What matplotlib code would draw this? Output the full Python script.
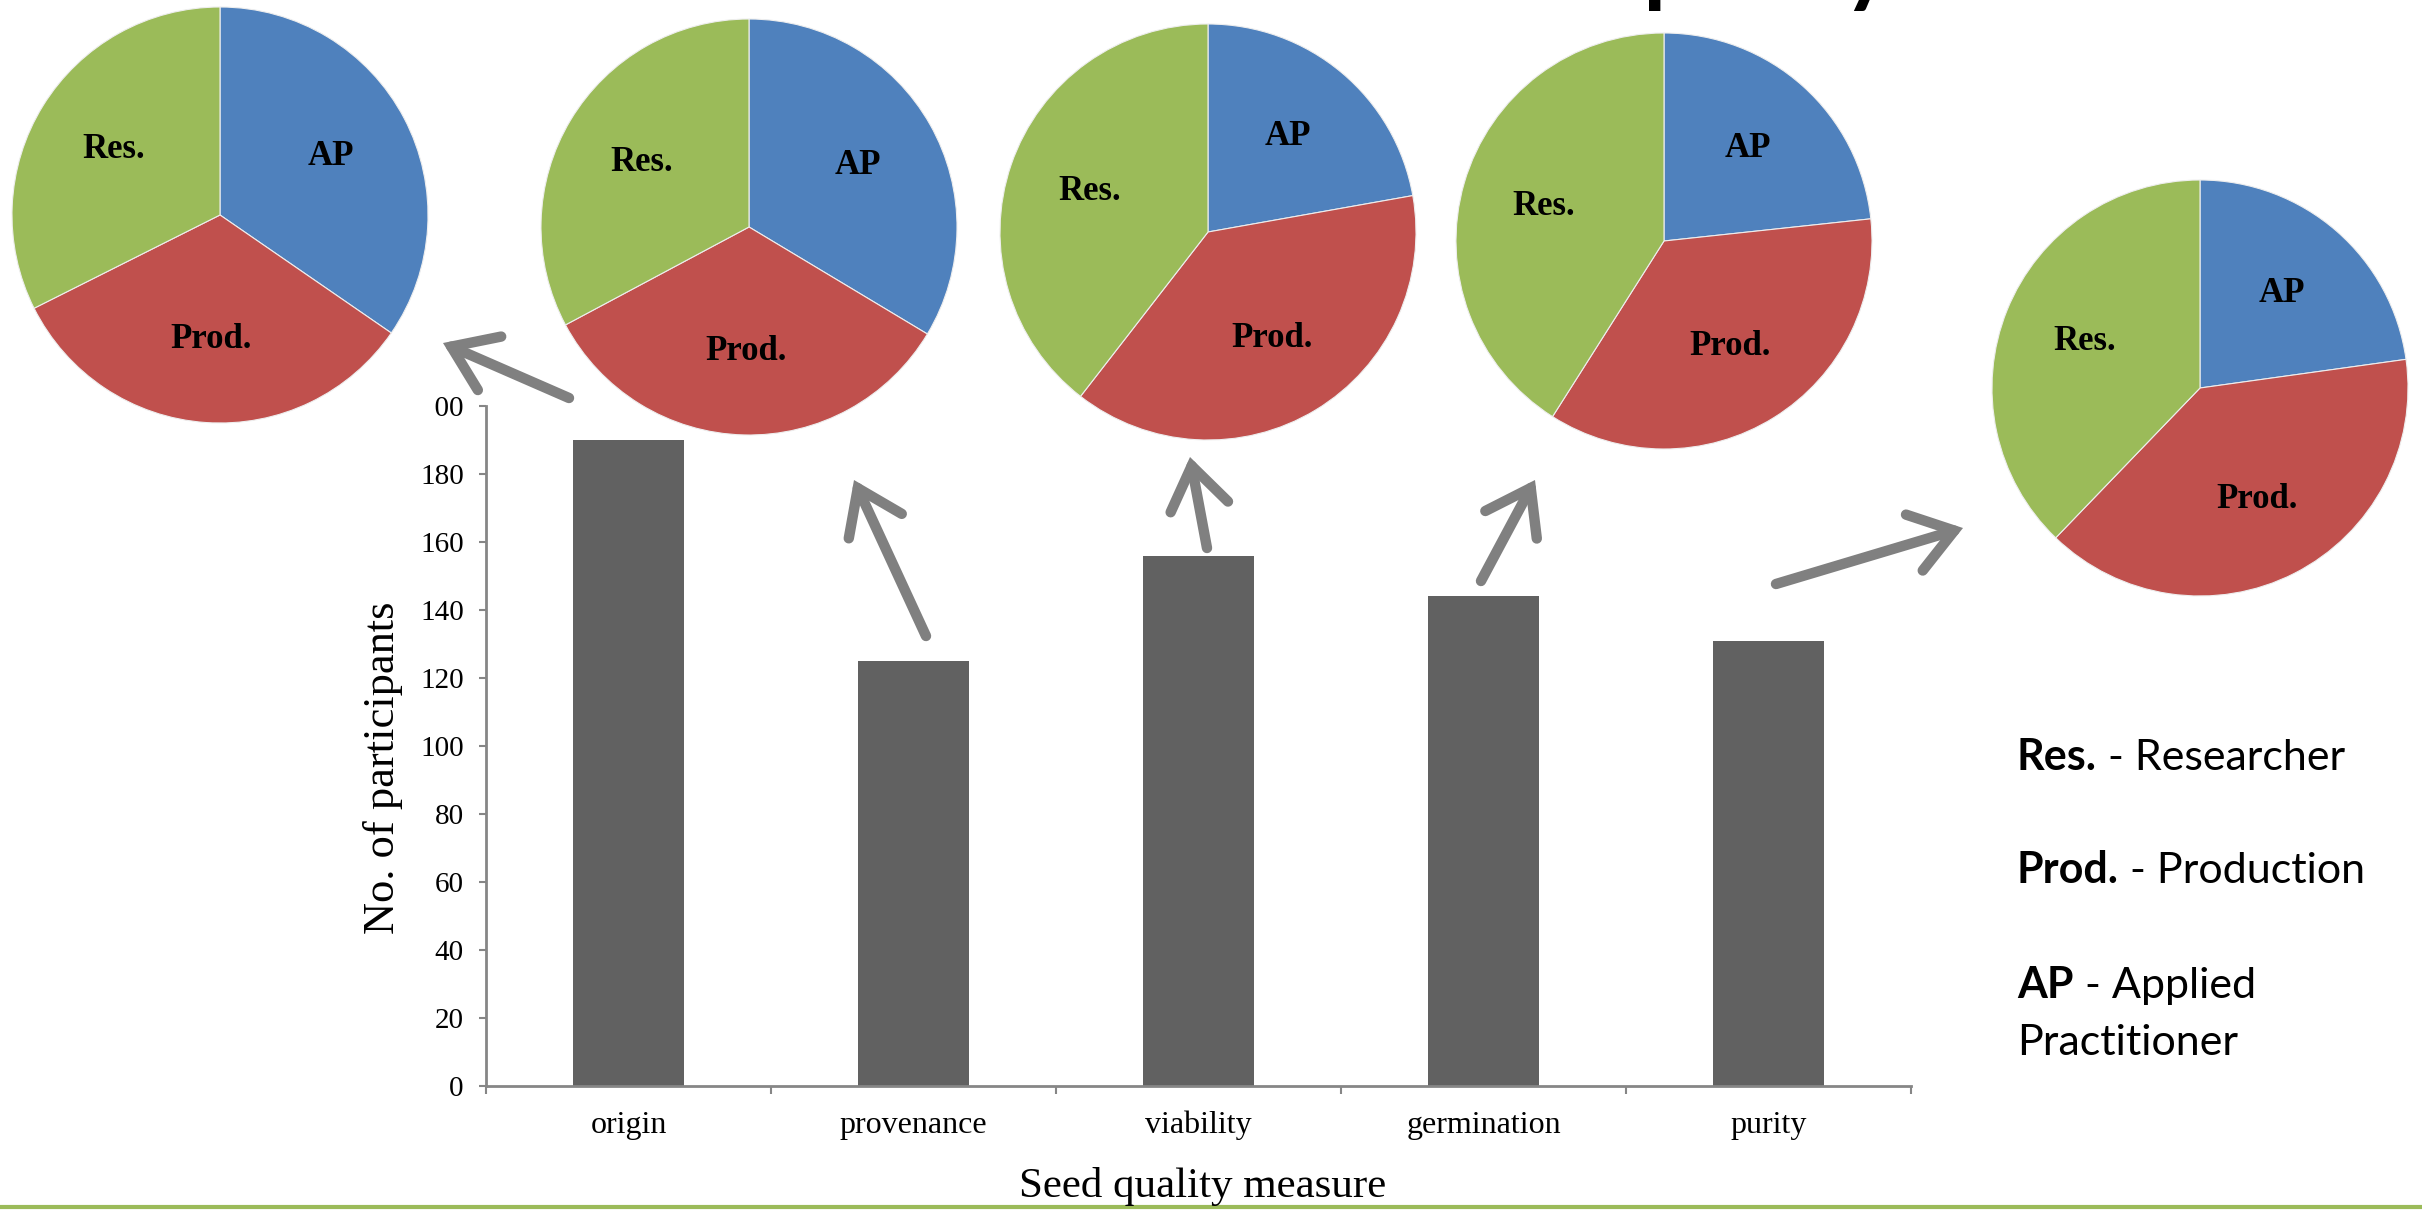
import matplotlib
matplotlib.use('Agg')
import matplotlib.pyplot as plt
from matplotlib.patches import FancyArrowPatch
from matplotlib.lines import Line2D

# bar chart data
measures = ['origin', 'provenance', 'viability', 'germination', 'purity']
participants = [190, 125, 156, 144, 131]
y_ticks = [0, 20, 40, 60, 80, 100, 120, 140, 160, 180, 200]

# pie data: share of each group (%) per measure
groups = ['AP', 'Prod.', 'Res.']
group_colors = ['#4F81BD', '#C0504D', '#9BBB59']
ap_share = [34.6, 33.6, 22.2, 23.3, 22.8]
prod_share = [33.0, 33.6, 38.3, 35.7, 39.4]
res_share = [32.4, 32.8, 39.5, 41.0, 37.8]

legend_abbr = ['Res.', 'Prod.', 'AP']
legend_full = ['Researcher', 'Production', 'Applied']

plt.rcParams['font.family'] = ['Liberation Serif', 'DejaVu Serif']

W, H = 2422, 1210
fig = plt.figure(figsize=(W / 100, H / 100), dpi=100)


def fx(x):
    return x / W


def fy(y):
    return 1 - y / H


# main bar chart
ax_left, ax_right, ax_top, ax_bot = 486, 1911, 406, 1086
ax = fig.add_axes([fx(ax_left), fy(ax_bot), (ax_right - ax_left) / W, (ax_bot - ax_top) / H])
ax.bar(range(len(measures)), participants, width=0.39, color='#616161')
ax.set_xlim(-0.5, len(measures) - 0.5)
ax.set_ylim(0, 200)
ax.set_yticks(y_ticks)
ax.tick_params(axis='y', labelsize=21, length=5, width=1.5, color='#868686', pad=11)
ax.set_xticks(range(len(measures)))
ax.set_xticklabels(measures)
ax.set_xticks([i - 0.5 for i in range(len(measures) + 1)], minor=True)
ax.tick_params(axis='x', which='major', length=0, labelsize=23, pad=18)
ax.tick_params(axis='x', which='minor', length=6, width=1.5, color='#868686')
for s in ['top', 'right']:
    ax.spines[s].set_visible(False)
for s in ['left', 'bottom']:
    ax.spines[s].set_color('#868686')
    ax.spines[s].set_linewidth(2)

fig.text(fx(383), fy(768), 'No. of participants', rotation=90, fontsize=32,
         ha='center', va='center')
fig.text(fx(1203), fy(1186), 'Seed quality measure', fontsize=31,
         ha='center', va='center')

# pies
pie_centers = [(220, 215), (749, 227), (1208, 232), (1664, 241), (2200, 388)]
R = 208
for i in range(len(measures)):
    cx, cy = pie_centers[i]
    half = 215 if i == 0 else 212
    pax = fig.add_axes([fx(cx - half), fy(cy + half), 2 * half / W, 2 * half / H])
    shares = [ap_share[i], prod_share[i], res_share[i]]
    pax.pie(shares, colors=group_colors, labels=groups, startangle=90,
            counterclock=False, radius=R / half, labeldistance=0.6, frame=True,
            wedgeprops=dict(edgecolor='#EEEEEE', linewidth=0.8),
            textprops=dict(fontsize=25, fontweight='bold', color='black',
                           ha='center', va='center'))
    pax.set_xlim(-1, 1)
    pax.set_ylim(-1, 1)
    pax.set_xticks([])
    pax.set_yticks([])
    for s in pax.spines.values():
        s.set_visible(False)
    pax.set_facecolor('white')
    if i > 0:
        pax.patch.set_visible(False)

# arrows from bars to pies
arrow_pts = [((569, 398), (443, 343)),
             ((926, 636), (854, 480)),
             ((1207, 548), (1190, 457)),
             ((1481, 581), (1535, 480)),
             ((1776, 584), (1963, 528))]
for (x0, y0), (x1, y1) in arrow_pts:
    arr = FancyArrowPatch((fx(x0), fy(y0)), (fx(x1), fy(y1)),
                          transform=fig.transFigure,
                          arrowstyle='->,head_length=0.6,head_width=0.42',
                          mutation_scale=50, lw=7.5, color='#808080',
                          capstyle='round', joinstyle='miter',
                          shrinkA=0, shrinkB=0)
    fig.add_artist(arr)

# cut-off slide title (only descenders visible)
fig.text(fx(1614), fy(-5), 'quality', fontsize=66, fontweight='bold',
         family='Lato', ha='left', va='baseline')

# legend text on the right
renderer = fig.canvas.get_renderer()
leg_y = [770, 883, 998]
for abbr, full, y in zip(legend_abbr, legend_full, leg_y):
    t = fig.text(fx(2017), fy(y), abbr, fontsize=31, fontweight='bold',
                 family='Lato', ha='left', va='baseline')
    bb = t.get_window_extent(renderer)
    fig.text(bb.x1 / W, fy(y), ' - ' + full, fontsize=31, family='Lato',
             ha='left', va='baseline')
fig.text(fx(2017), fy(1055), 'Practitioner', fontsize=31, family='Lato',
         ha='left', va='baseline')

# green rule at the bottom
fig.add_artist(Line2D([0, 1], [fy(1207), fy(1207)], transform=fig.transFigure,
                      color='#9BBB59', lw=3))

fig.savefig('out.png', dpi=100)
